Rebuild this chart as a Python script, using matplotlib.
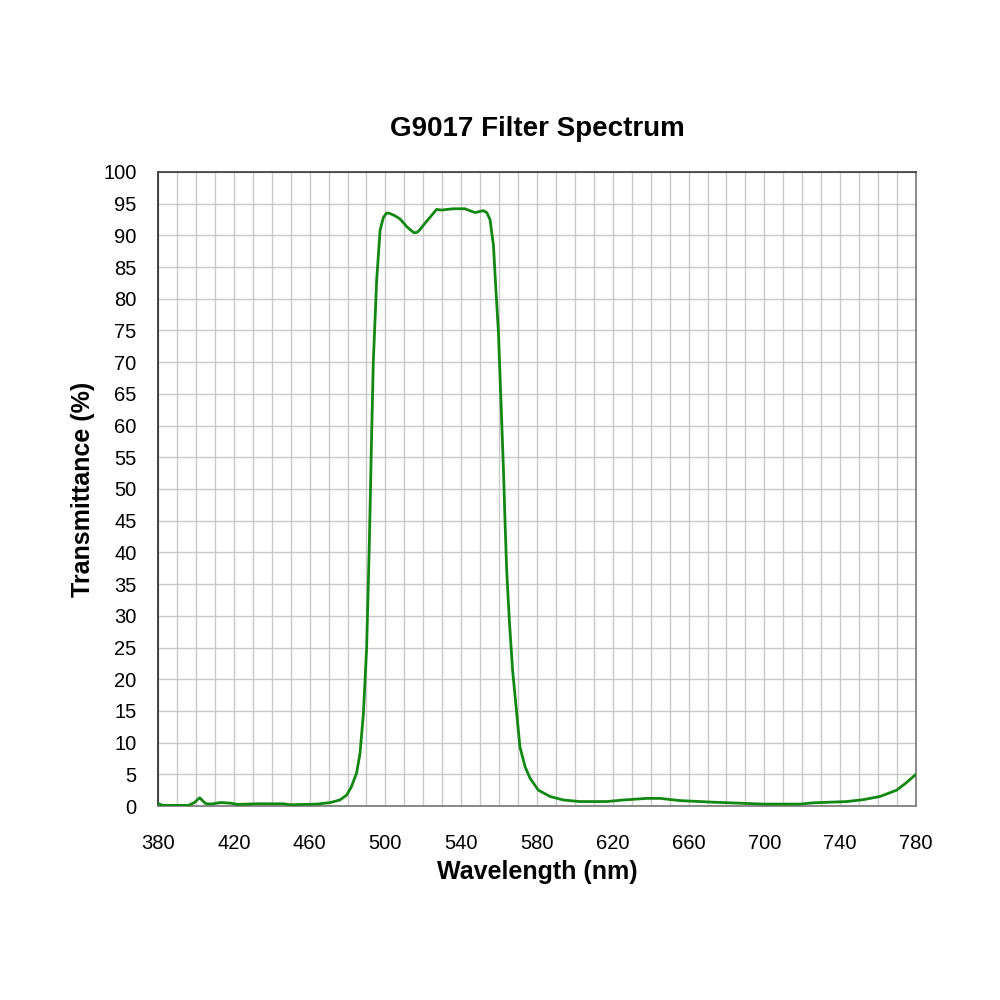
import matplotlib
matplotlib.use('Agg')
import matplotlib.pyplot as plt
import numpy as np

plt.rcParams['font.family'] = ['Liberation Sans', 'DejaVu Sans']

# (nm, %T)
wavelength = [380, 382, 385, 390, 396, 399, 402, 405, 408, 413, 418, 422, 432, 446, 450,
              464, 471, 476, 479.5, 482, 484.8, 486.6, 488.4, 490.1, 491.5, 492.6, 493.6,
              495.4, 497.2, 498.9, 500.5, 502, 505, 507.7, 509.5, 511.2, 513.5, 515.2, 516.8,
              518.2, 520, 521.7, 524.5, 527, 529.6, 535.8, 542, 543.7, 545.5, 547.3, 551.7,
              553.5, 555.2, 557, 558.4, 559.6, 560.9, 562.3, 563.1, 564, 565.4, 567.1,
              569.3, 571, 573.7, 576.3, 580.7, 586.9, 593.9, 602.7, 616.8, 625.6, 637.9,
              644.9, 655.5, 673, 699.4, 718.8, 725.8, 743.4, 752.2, 761, 769.8, 775, 780]
transmittance = [0.4, 0.15, 0.1, 0.1, 0.1, 0.5, 1.3, 0.4, 0.3, 0.55, 0.45, 0.25, 0.35, 0.35, 0.2,
                 0.3, 0.55, 0.95, 1.7, 3.0, 5.2, 8.3, 14.6, 25.0, 41.0, 56.7, 69.9,
                 83.0, 90.8, 92.8, 93.5, 93.5, 93.1, 92.6, 92.0, 91.4, 90.8, 90.4, 90.5,
                 90.9, 91.6, 92.2, 93.2, 94.1, 94.0, 94.2, 94.2, 94.0, 93.8, 93.6, 93.9,
                 93.6, 92.5, 88.5, 81.0, 75.0, 64.6, 53.0, 45.1, 37.2, 29.3, 21.5,
                 14.6, 9.3, 6.2, 4.4, 2.5, 1.5, 0.95, 0.7, 0.7, 0.95, 1.2,
                 1.2, 0.85, 0.6, 0.3, 0.3, 0.5, 0.7, 1.0, 1.5, 2.5, 3.7, 5.0]

x_ticks = np.arange(380, 781, 40)
y_ticks = np.arange(0, 101, 5)

fig = plt.figure(figsize=(10, 10), dpi=100)
ax = fig.add_axes([0.158, 0.194, 0.758, 0.634])

ax.plot(wavelength, transmittance, color='#118811', linewidth=2.0, zorder=3)

ax.set_xlim(380, 780)
ax.set_ylim(0, 100)
ax.set_xticks(x_ticks)
ax.set_xticks(np.arange(380, 781, 10), minor=True)
ax.set_yticks(y_ticks)
ax.grid(True, which='both', color='#c8c8c8', linewidth=1.0)
ax.set_axisbelow(True)
ax.tick_params(which='both', length=0)
ax.tick_params(axis='x', labelsize=14.5, pad=20)
ax.tick_params(axis='y', labelsize=14.5, pad=15.5)

ax.spines['left'].set_color('#333333')
ax.spines['top'].set_color('#444444')
ax.spines['right'].set_color('#808080')
ax.spines['bottom'].set_color('#808080')
for s in ax.spines.values():
    s.set_linewidth(1.3)

ax.set_xlabel('Wavelength (nm)', fontsize=18, fontweight='bold', labelpad=5)
ax.set_ylabel('Transmittance (%)', fontsize=18, fontweight='bold', labelpad=6)
ax.set_title('G9017 Filter Spectrum', fontsize=20, fontweight='bold', pad=26)

fig.savefig('out.png', dpi=100, facecolor='white')
